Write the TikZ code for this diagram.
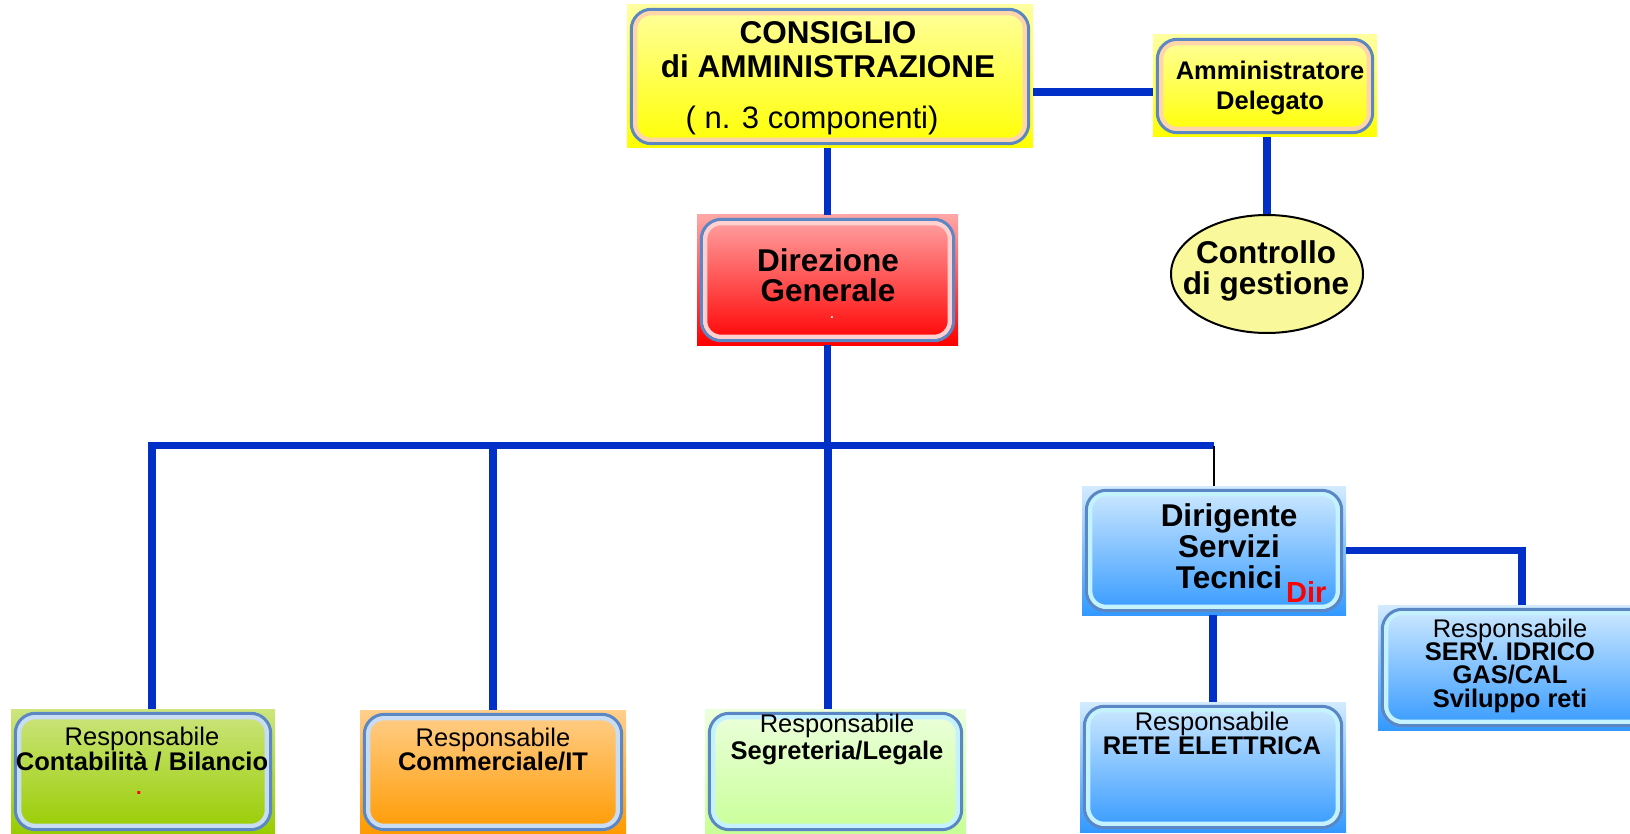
\documentclass[tikz,border=0pt]{standalone}
\usepackage{fontspec}
\setmainfont{Liberation Sans}
\usetikzlibrary{shapes.geometric}

\definecolor{linkblue}{HTML}{0030C8}
\definecolor{edgeblue}{HTML}{5B87C5}
\definecolor{cdatop}{HTML}{FFFFA0}
\definecolor{cdabot}{HTML}{FFFF00}
\definecolor{dgtop}{HTML}{FFA6A6}
\definecolor{dgbot}{HTML}{FF0000}
\definecolor{bluetop}{HTML}{D2EBFF}
\definecolor{bluebot}{HTML}{3399FF}
\definecolor{greentop}{HTML}{CCE57F}
\definecolor{greenbot}{HTML}{99CC00}
\definecolor{orangetop}{HTML}{FFCF8C}
\definecolor{orangebot}{HTML}{FF9A00}
\definecolor{limetop}{HTML}{ECFFDD}
\definecolor{limebot}{HTML}{C8FF96}
\definecolor{peach}{HTML}{FFD5AA}
\definecolor{pink}{HTML}{FFD0D0}
\definecolor{ice}{HTML}{C4F2FF}
\definecolor{mist}{HTML}{C8DCF4}
\definecolor{ctrlfill}{HTML}{F9F99C}

\tikzset{
  link/.style={draw=linkblue, line width=7.7pt},
  box/.style 2 args={rectangle, inner sep=0pt, top color=#1, bottom color=#2},
  rim/.style={draw=edgeblue, line width=3pt, rounded corners=20pt},
  glow/.style={draw=#1, line width=4.5pt, rounded corners=16pt},
  big/.style={font=\fontsize{31.5}{30}\selectfont\bfseries, align=center, inner sep=0pt},
  resp/.style={font=\fontsize{25.5}{24}\selectfont, align=center, inner sep=0pt},
}

\begin{document}
\begin{tikzpicture}[x=1pt, y=-1pt]
\useasboundingbox (0,0) rectangle (1630,834);

% boxes
\node[box={cdatop}{cdabot}, minimum width=406pt, minimum height=143pt] (cda) at (830,76.5) {};
\node[box={cdatop}{cdabot}, minimum width=224pt, minimum height=102pt] (ad) at (1265,86) {};
\node[box={dgtop}{dgbot}, minimum width=261pt, minimum height=130pt] (dg) at (827.5,280) {};
\node[box={bluetop}{bluebot}, minimum width=264pt, minimum height=129pt] (dst) at (1214,550.5) {};
\node[box={bluetop}{bluebot}, minimum width=284pt, minimum height=125pt] (serv) at (1520,667.5) {};
\node[box={bluetop}{bluebot}, minimum width=266pt, minimum height=130pt] (rete) at (1213,767) {};
\node[box={greentop}{greenbot}, minimum width=264pt, minimum height=125pt] (contab) at (143,771.5) {};
\node[box={orangetop}{orangebot}, minimum width=266pt, minimum height=124pt] (comm) at (493,772) {};
\node[box={limetop}{limebot}, minimum width=261pt, minimum height=125pt] (seg) at (835.5,771.5) {};
\node[ellipse, draw=black, line width=2pt, fill=ctrlfill, minimum width=192pt, minimum height=118pt] (ctrl) at (1267,274) {};

\foreach \n/\g in {cda/peach, ad/peach, dg/pink, dst/ice, serv/ice, rete/ice, contab/mist, comm/mist, seg/ice} {
  \draw[glow=\g] ([shift={(8.25,8.25)}]\n.north west) rectangle ([shift={(-8.25,-8.25)}]\n.south east);
  \draw[rim] ([shift={(4.5,4.5)}]\n.north west) rectangle ([shift={(-4.5,-4.5)}]\n.south east);
}

% texts
\node[big, font=\fontsize{31.5}{34}\selectfont\bfseries] (cdatxt) at (828,50) {CONSIGLIO\\di AMMINISTRAZIONE};
\node[anchor=base, inner sep=0pt, font=\fontsize{31}{34}\selectfont] (cdanum) at (812,129) {( n. 3 componenti)};
\node[big, font=\fontsize{25.5}{30}\selectfont\bfseries] (adtxt) at (1270,87.5) {Amministratore\\Delegato};
\node[big, font=\fontsize{31.5}{31}\selectfont\bfseries] (ctrltxt) at (1266,270.5) {Controllo\\di gestione};
\node[big] (dgtxt) at (828,275) {Direzione\\Generale};
\node[inner sep=0pt, font=\fontsize{12}{12}\selectfont\bfseries, text=white] (dgdot) at (832,318) {.};
\node[big, font=\fontsize{31.5}{31}\selectfont\bfseries] (dsttxt) at (1229,546)
  {Dirigente\\Servizi\\Tecnici\rlap{\hspace{4pt}\raisebox{-14pt}[0pt][0pt]{\fontsize{29}{29}\selectfont\color{red}Dir}}};
\node[resp, font=\fontsize{25.5}{23.3}\selectfont] (servtxt) at (1510,665.5)
  {Responsabile\\\textbf{SERV. IDRICO}\\\textbf{GAS/CAL}\\\textbf{Sviluppo reti}};
\node[resp] (retetxt) at (1212,733) {Responsabile\\\textbf{RETE ELETTRICA}};
\node[resp, font=\fontsize{25.5}{23}\selectfont] (contabtxt) at (142,749.5) {Responsabile\\\textbf{Contabilità / Bilancio}};
\node[inner sep=0pt, font=\fontsize{20}{20}\selectfont\bfseries, text=red] (contabdot) at (139,793) {.};
\node[resp] (commtxt) at (493,750) {Responsabile\\\textbf{Commerciale/IT}};
\node[resp] (segtxt) at (837,739) {Responsabile\\[3pt]\textbf{Segreteria/Legale}};

% connectors
\coordinate (bus) at (828,445.5);
\draw[link] (dg.north) -- (dg.north |- cda.south);
\draw[link] ([shift={(0,6)}]ad.west) -- ([shift={(0,6)}]ad.west -| cda.east);
\draw[link] (ctrl.north) -- (ctrl.north |- ad.south);
\draw[link] (dg.south) -- (dg.south |- bus);
\draw[link] ([xshift=9pt]contab.north) |- (bus -| dst.north);
\draw[link] (comm.north) -- (comm.north |- bus);
\draw[link] (bus) -- (bus |- seg.north);
\draw[line width=2pt] (bus -| dst.north) -- (dst.north);
\draw[link] (rete.north) -- (rete.north |- dst.south);
\draw[link] (dst.east) -| ([xshift=2pt]serv.north);
\end{tikzpicture}
\end{document}
